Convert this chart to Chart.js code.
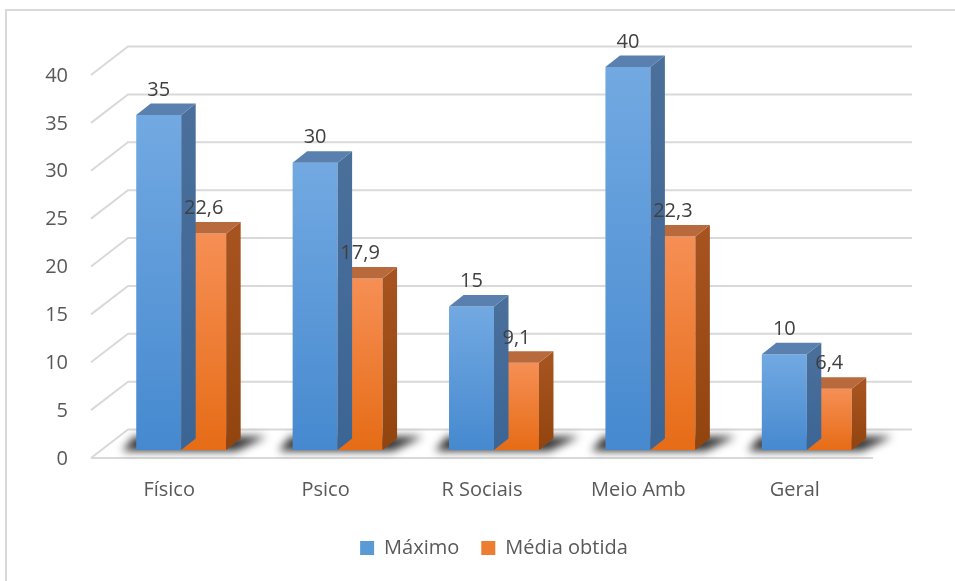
<!DOCTYPE html>
<html>
<head>
<meta charset="utf-8">
<script src="https://cdn.jsdelivr.net/npm/chart.js@4.4.1/dist/chart.umd.min.js"></script>
<style>
  html, body { margin: 0; padding: 0; background: #fff; }
  #wrap { width: 955px; height: 581px; }
</style>
</head>
<body>
<div id="wrap"><canvas id="grafico" width="955" height="581"></canvas></div>
<script>
const categorias = ["Físico", "Psico", "R Sociais", "Meio Amb", "Geral"];
const maximo = [35, 30, 15, 40, 10];
const mediaObtida = [22.6, 17.9, 9.1, 22.3, 6.4];
const ticksY = [0, 5, 10, 15, 20, 25, 30, 35, 40];
const nomesSeries = ["Máximo", "Média obtida"];

const fonte = { family: "'Open Sans', sans-serif", size: 20 };
const corTexto = "#595959";
const corGrade = "#d9d9d9";

// cores das faces: frente (topo -> base), lado (topo -> base), tampa
const cores = [
  { frente: ["#72a9e2", "#4689cf"], lado: ["#4a6f9b", "#3b6595"], tampa: "#5a80b0", legenda: "#5b9bd5" },
  { frente: ["#f68f55", "#e66c16"], lado: ["#a6531f", "#92440e"], tampa: "#b96a3d", legenda: "#ed7d31" }
];

// profundidade das barras e do "chão"
const PROF_X = 14.5, PROF_Y = 11.5;
const FUNDO_X = 25, FUNDO_Y = -20.5;
const FRENTE_X = -12, FRENTE_Y = 8;

function gradiente(ctx, y0, y1, c) {
  const g = ctx.createLinearGradient(0, y0, 0, y1);
  g.addColorStop(0, c[0]);
  g.addColorStop(1, c[1]);
  return g;
}

function corFrente(i) {
  return (context) => {
    const chart = context.chart;
    if (!chart.chartArea || !chart.scales.y) return cores[i].frente[1];
    const y = chart.scales.y;
    return gradiente(chart.ctx, y.getPixelForValue(context.raw), y.getPixelForValue(0), cores[i].frente);
  };
}

const efeito3d = {
  id: "efeito3d",
  beforeDraw(chart) {
    const ctx = chart.ctx;
    ctx.save();
    ctx.strokeStyle = corGrade;
    ctx.lineWidth = 2;
    ctx.strokeRect(6, 10, 1000, 1000);
    ctx.restore();
  },
  beforeDatasetsDraw(chart) {
    const ctx = chart.ctx;
    const area = chart.chartArea;
    const y = chart.scales.y;
    ctx.save();
    ctx.strokeStyle = corGrade;
    ctx.lineWidth = 2;
    ticksY.forEach(v => {
      const py = y.getPixelForValue(v);
      ctx.beginPath();
      ctx.moveTo(area.left + FRENTE_X, py + FRENTE_Y);
      ctx.lineTo(area.left + FUNDO_X, py + FUNDO_Y);
      ctx.lineTo(area.right + FUNDO_X + 2, py + FUNDO_Y);
      ctx.stroke();
    });
    const p0 = y.getPixelForValue(0);
    ctx.beginPath();
    ctx.moveTo(area.left + FRENTE_X, p0 + FRENTE_Y);
    ctx.lineTo(area.right + FRENTE_X, p0 + FRENTE_Y);
    ctx.stroke();

    // sombras no chão
    const m0 = chart.getDatasetMeta(0).data;
    const m1 = chart.getDatasetMeta(1).data;
    ctx.filter = "blur(4px)";
    ctx.fillStyle = "rgba(0,0,0,0.8)";
    m0.forEach((b, j) => {
      const esq = b.x - b.width / 2;
      const dir = m1[j].x + m1[j].width / 2;
      const base = b.base;
      ctx.beginPath();
      ctx.moveTo(esq - 14, base + 1);
      ctx.lineTo(dir + 10, base + 1);
      ctx.lineTo(dir + PROF_X + 26, base - PROF_Y - 2);
      ctx.lineTo(esq - 2, base - PROF_Y - 2);
      ctx.closePath();
      ctx.fill();
    });
    ctx.restore();
  },
  afterDatasetDraw(chart, args) {
    const ctx = chart.ctx;
    const c = cores[args.index];
    ctx.save();
    args.meta.data.forEach(b => {
      const esq = b.x - b.width / 2;
      const dir = b.x + b.width / 2;
      const topo = b.y, base = b.base;
      ctx.fillStyle = gradiente(ctx, topo, base, c.lado);
      ctx.beginPath();
      ctx.moveTo(dir, topo);
      ctx.lineTo(dir + PROF_X, topo - PROF_Y);
      ctx.lineTo(dir + PROF_X, base - PROF_Y);
      ctx.lineTo(dir, base);
      ctx.closePath();
      ctx.fill();
      ctx.fillStyle = c.tampa;
      ctx.beginPath();
      ctx.moveTo(esq, topo);
      ctx.lineTo(esq + PROF_X, topo - PROF_Y);
      ctx.lineTo(dir + PROF_X, topo - PROF_Y);
      ctx.lineTo(dir, topo);
      ctx.closePath();
      ctx.fill();
    });
    ctx.restore();
  },
  afterDatasetsDraw(chart) {
    const ctx = chart.ctx;
    ctx.save();
    ctx.font = "20px 'Open Sans', sans-serif";
    ctx.fillStyle = "#404040";
    ctx.textAlign = "center";
    ctx.textBaseline = "middle";
    chart.data.datasets.forEach((ds, i) => {
      chart.getDatasetMeta(i).data.forEach((b, j) => {
        ctx.fillText(ds.data[j].toLocaleString("pt-BR"), b.x, b.y - 25);
      });
    });
    ctx.restore();
  }
};

function desenhar() {
  new Chart(document.getElementById("grafico"), {
    type: "bar",
    data: {
      labels: categorias,
      datasets: [
        { label: nomesSeries[0], data: maximo, backgroundColor: corFrente(0) },
        { label: nomesSeries[1], data: mediaObtida, backgroundColor: corFrente(1) }
      ]
    },
    options: {
      responsive: false,
      animation: false,
      events: [],
      categoryPercentage: 0.575,
      barPercentage: 1,
      layout: { padding: { left: 0, right: 70, top: 67, bottom: 13 } },
      plugins: {
        tooltip: { enabled: false },
        legend: {
          position: "bottom",
          fullSize: false,
          labels: {
            boxWidth: 14,
            boxHeight: 14,
            padding: 22,
            color: corTexto,
            font: fonte,
            generateLabels: chart => chart.data.datasets.map((ds, i) => ({
              text: ds.label,
              fillStyle: cores[i].legenda,
              strokeStyle: cores[i].legenda,
              lineWidth: 0,
              hidden: false,
              datasetIndex: i,
              fontColor: corTexto
            }))
          }
        }
      },
      scales: {
        x: {
          grid: { display: false, drawTicks: false },
          border: { display: false },
          ticks: { color: corTexto, font: fonte, padding: 28, labelOffset: FRENTE_X },
          afterFit: s => { s.height = 66; }
        },
        y: {
          min: 0,
          max: 40,
          afterBuildTicks: s => { s.ticks = ticksY.map(v => ({ value: v })); },
          grid: { display: false, drawTicks: false },
          border: { display: false },
          ticks: { color: corTexto, font: fonte, padding: 35, labelOffset: 9 },
          afterFit: s => { s.width = 103; }
        }
      }
    },
    plugins: [efeito3d]
  });
}

document.fonts.load("20px 'Open Sans'").then(desenhar, desenhar);
</script>
</body>
</html>
